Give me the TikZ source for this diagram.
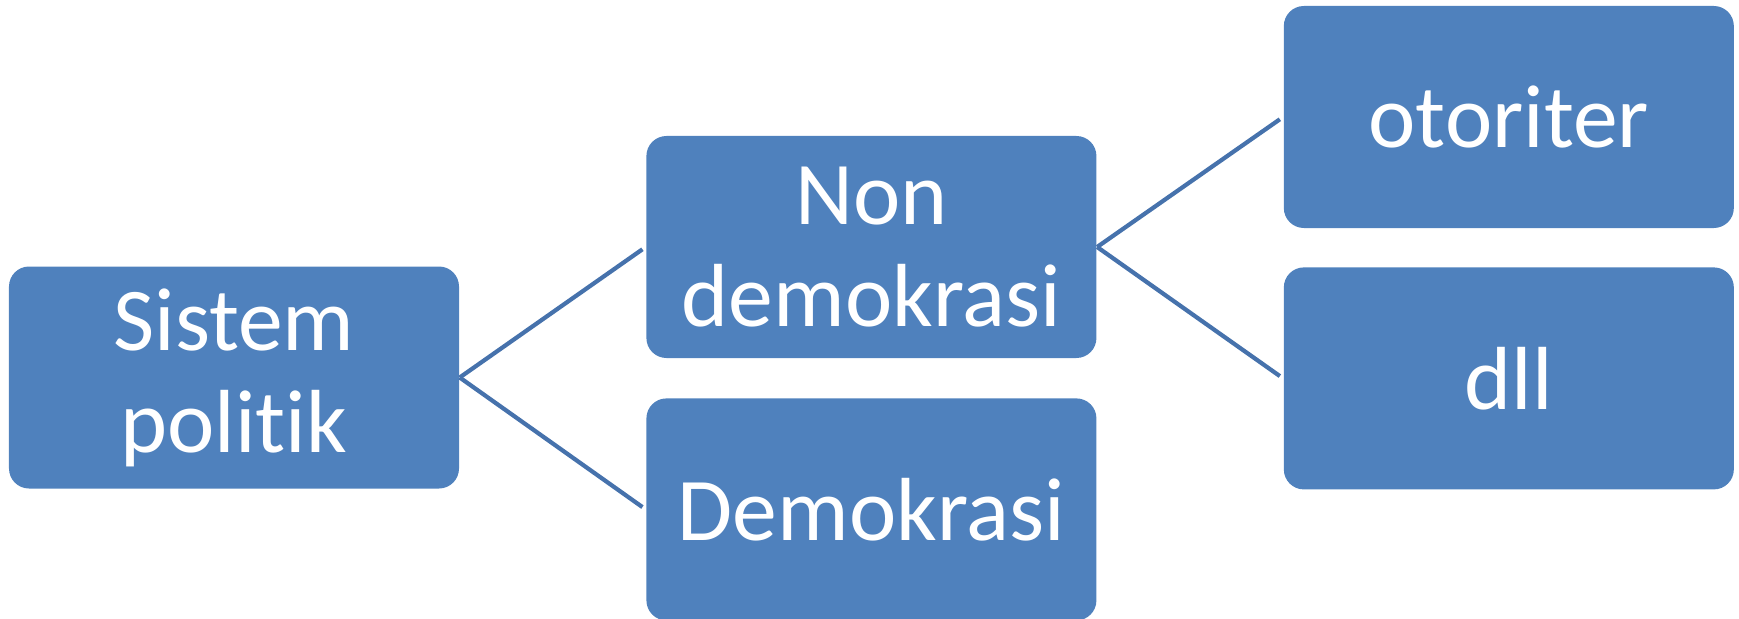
\documentclass[tikz,border=0pt]{standalone}
\usepackage{fontspec}
\setmainfont{Carlito}[Ligatures=NoCommon]
\usetikzlibrary{positioning}
\definecolor{boxblue}{HTML}{4F81BD}
\definecolor{linkblue}{HTML}{4672AC}

\begin{document}
\begin{tikzpicture}[
    node distance=1.86cm,
    box/.style={rectangle, rounded corners=0.2cm, fill=boxblue, text=white,
      minimum width=4.5cm, minimum height=2.22cm, inner sep=0pt, align=center,
      font=\fontsize{25.5}{29}\selectfont},
    link/.style={draw=linkblue, line width=1.2pt, shorten >=0.04cm}
  ]
    \useasboundingbox (0,0) rectangle (17.39,-6.18);

    \node[box] (sis) at (2.34,-3.775) {Sistem\\politik};
    \node[box, right=of sis, yshift=1.305cm] (non) {Non\\demokrasi};
    \node[box, below=0.39cm of non] (dem) {Demokrasi};
    \node[box, right=of non, yshift=1.3cm] (oto) {otoriter};
    \node[box, below=0.38cm of oto] (dll) {dll};

    \draw[link] (sis.east) -- (non.west);
    \draw[link] (sis.east) -- (dem.west);
    \draw[link] (non.east) -- (oto.west);
    \draw[link] (non.east) -- (dll.west);
  \end{tikzpicture}
\end{document}
